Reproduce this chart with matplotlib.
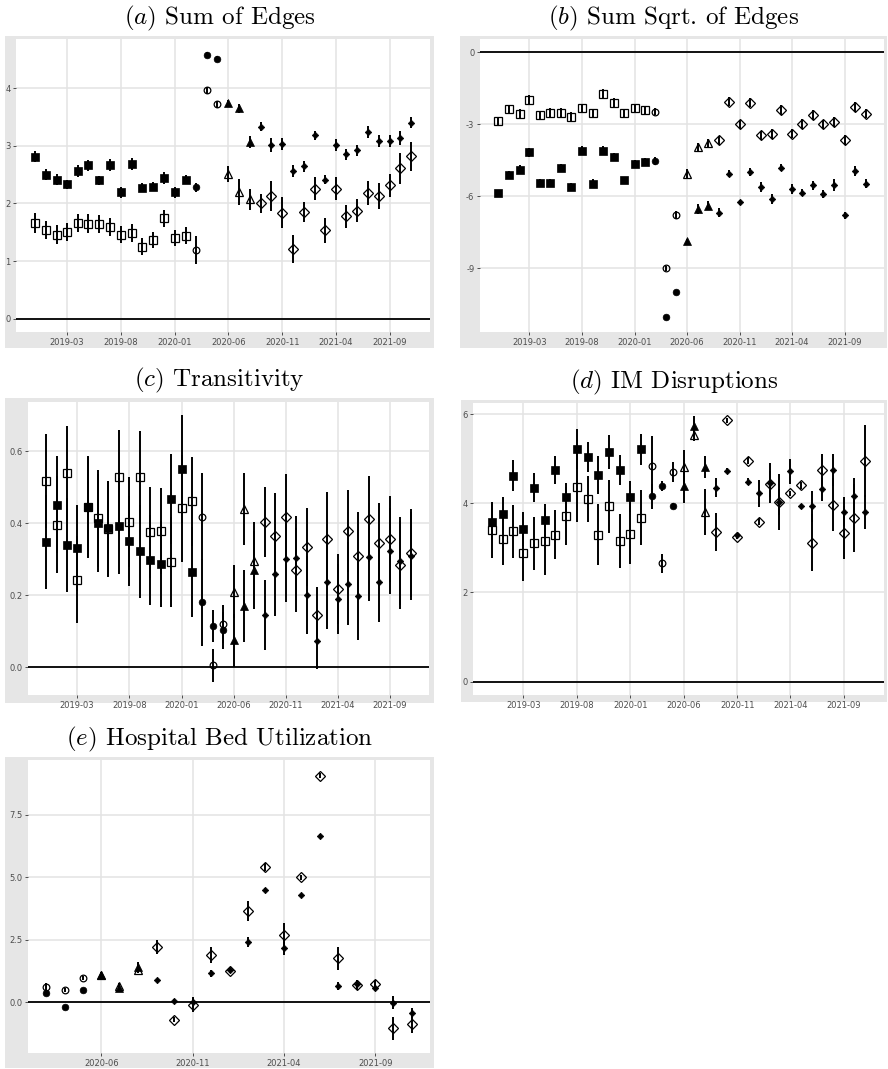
import numpy as np
import pandas as pd
import matplotlib
matplotlib.use("Agg")
import matplotlib.pyplot as plt
import matplotlib.dates as mdates
from matplotlib.patches import Rectangle
from matplotlib.ticker import FixedLocator, MultipleLocator, FormatStrFormatter

# ----------------------------------------------------------------- data ----

months = pd.date_range("2018-12-01", "2021-11-01", freq="MS")
months_covid = pd.date_range("2020-03-01", "2021-11-01", freq="MS")

# period -> first month (marker shape changes with the period)
phase_names = ["pre", "wave1", "summer", "later"]
phase_starts = ["2018-12-01", "2020-03-01", "2020-06-01", "2020-09-01"]

# (a) Sum of Edges
edges_filled = [2.81, 2.50, 2.41, 2.33, 2.56, 2.66, 2.40, 2.67, 2.19, 2.68, 2.27, 2.29,
                2.44, 2.19, 2.41, 2.28, 4.57, 4.51, 3.74, 3.65, 3.06, 3.33, 3.01, 3.03,
                2.56, 2.64, 3.18, 2.41, 3.01, 2.85, 2.92, 3.24, 3.08, 3.08, 3.14, 3.40]
edges_filled_err = [0.10, 0.10, 0.10, 0.08, 0.10, 0.10, 0.08, 0.10, 0.10, 0.10, 0.08, 0.08,
                    0.10, 0.10, 0.08, 0.08, 0.05, 0.04, 0.05, 0.08, 0.10, 0.08, 0.12, 0.10,
                    0.10, 0.10, 0.08, 0.08, 0.10, 0.10, 0.10, 0.10, 0.10, 0.10, 0.12, 0.10]
edges_open = [1.66, 1.54, 1.46, 1.50, 1.66, 1.65, 1.64, 1.59, 1.46, 1.49, 1.25, 1.37,
              1.74, 1.40, 1.44, 1.19, 3.96, 3.72, 2.51, 2.20, 2.07, 2.00, 2.13, 1.84,
              1.21, 1.85, 2.25, 1.53, 2.25, 1.78, 1.87, 2.18, 2.13, 2.31, 2.61, 2.82]
edges_open_err = [0.17, 0.16, 0.16, 0.16, 0.16, 0.16, 0.15, 0.15, 0.14, 0.16, 0.15, 0.14,
                  0.15, 0.14, 0.15, 0.24, 0.06, 0.06, 0.14, 0.22, 0.18, 0.17, 0.26, 0.27,
                  0.25, 0.18, 0.20, 0.22, 0.20, 0.20, 0.20, 0.20, 0.22, 0.20, 0.27, 0.25]

# (b) Sum Sqrt. of Edges
sqrt_filled = [-5.85, -5.09, -4.88, -4.16, -5.44, -5.43, -4.80, -5.61, -4.09, -5.47, -4.10, -4.34,
               -5.33, -4.63, -4.56, -4.53, -11.04, -9.99, -7.87, -6.53, -6.39, -6.67, -5.05, -6.25,
               -4.98, -5.61, -6.11, -4.80, -5.68, -5.85, -5.54, -5.90, -5.51, -6.78, -4.95, -5.47]
sqrt_filled_err = [0.12, 0.15, 0.18, 0.18, 0.15, 0.15, 0.15, 0.15, 0.18, 0.18, 0.18, 0.15,
                   0.15, 0.15, 0.15, 0.18, 0.05, 0.05, 0.10, 0.20, 0.18, 0.20, 0.15, 0.12,
                   0.18, 0.22, 0.22, 0.15, 0.20, 0.15, 0.20, 0.18, 0.25, 0.15, 0.22, 0.18]
sqrt_open = [-2.86, -2.37, -2.55, -1.99, -2.61, -2.51, -2.51, -2.69, -2.33, -2.54, -1.73, -2.09,
             -2.52, -2.33, -2.41, -2.48, -9.00, -6.77, -5.05, -3.95, -3.78, -3.67, -2.05, -3.00,
             -2.09, -3.46, -3.40, -2.40, -3.38, -2.98, -2.61, -3.00, -2.91, -3.64, -2.27, -2.55]
sqrt_open_err = [0.15, 0.18, 0.18, 0.20, 0.15, 0.18, 0.20, 0.20, 0.18, 0.20, 0.20, 0.18,
                 0.18, 0.15, 0.15, 0.15, 0.12, 0.15, 0.20, 0.18, 0.18, 0.20, 0.20, 0.20,
                 0.20, 0.20, 0.22, 0.20, 0.20, 0.20, 0.20, 0.20, 0.20, 0.20, 0.20, 0.20]

# (c) Transitivity (both series share the same interval width)
trans_filled = [0.348, 0.451, 0.339, 0.331, 0.446, 0.400, 0.385, 0.392, 0.350, 0.322, 0.297, 0.287,
                0.468, 0.550, 0.264, 0.180, 0.115, 0.102, 0.075, 0.170, 0.270, 0.145, 0.260, 0.300,
                0.304, 0.200, 0.072, 0.237, 0.190, 0.232, 0.197, 0.305, 0.236, 0.322, 0.296, 0.310]
trans_open = [0.517, 0.396, 0.539, 0.243, 0.444, 0.413, 0.383, 0.527, 0.402, 0.527, 0.374, 0.378,
              0.293, 0.441, 0.460, 0.418, 0.005, 0.120, 0.210, 0.440, 0.295, 0.403, 0.365, 0.417,
              0.270, 0.334, 0.145, 0.356, 0.216, 0.378, 0.310, 0.412, 0.346, 0.356, 0.285, 0.316]
trans_err = [0.130, 0.135, 0.130, 0.120, 0.140, 0.135, 0.133, 0.132, 0.125, 0.129, 0.125, 0.119,
             0.125, 0.149, 0.124, 0.120, 0.045, 0.052, 0.073, 0.100, 0.107, 0.098, 0.118, 0.118,
             0.116, 0.108, 0.077, 0.130, 0.097, 0.115, 0.122, 0.120, 0.110, 0.119, 0.122, 0.122]

# (d) IM Disruptions
im_filled = [3.58, 3.77, 4.62, 3.43, 4.35, 3.62, 4.75, 4.13, 5.22, 5.04, 4.63, 5.15,
             4.75, 4.15, 5.21, 4.16, 4.39, 3.94, 4.39, 5.73, 4.82, 4.35, 4.73, 3.28,
             4.48, 4.22, 4.46, 4.03, 4.72, 3.93, 3.93, 4.31, 4.75, 3.81, 4.16, 3.81]
im_filled_err = [0.40, 0.38, 0.34, 0.38, 0.33, 0.36, 0.32, 0.33, 0.45, 0.33, 0.42, 0.38,
                 0.33, 0.35, 0.35, 0.28, 0.12, 0.06, 0.38, 0.22, 0.25, 0.22, 0.05, 0.05,
                 0.08, 0.30, 0.45, 0.62, 0.28, 0.05, 0.35, 0.26, 0.36, 0.32, 0.40, 0.38]
im_open = [3.40, 3.21, 3.37, 2.88, 3.10, 3.15, 3.30, 3.71, 4.37, 4.10, 3.30, 3.93,
           3.15, 3.32, 3.68, 4.84, 2.65, 4.70, 4.81, 5.52, 3.81, 3.35, 5.86, 3.24,
           4.95, 3.59, 4.43, 4.03, 4.22, 4.40, 3.12, 4.75, 3.97, 3.34, 3.67, 4.95]
im_open_err = [0.62, 0.60, 0.60, 0.62, 0.60, 0.75, 0.55, 0.65, 0.80, 0.52, 0.68, 0.60,
               0.60, 0.68, 0.62, 0.67, 0.22, 0.22, 0.38, 0.12, 0.52, 0.43, 0.06, 0.05,
               0.08, 0.08, 0.30, 0.30, 0.06, 0.08, 0.63, 0.36, 0.60, 0.60, 0.77, 0.80]

# (e) Hospital Bed Utilization (starts 2020-03)
beds_filled = [0.35, -0.18, 0.48, 1.10, 0.55, 1.40, 0.88, 0.05, 0.00, 1.15, 1.30,
               2.40, 4.50, 2.15, 4.28, 6.65, 0.65, 0.72, 0.55, -0.02, -0.42]
beds_filled_err = [0.06, 0.06, 0.06, 0.10, 0.10, 0.20, 0.06, 0.06, 0.20, 0.15, 0.08,
                   0.20, 0.06, 0.25, 0.06, 0.06, 0.15, 0.15, 0.10, 0.25, 0.20]
beds_open = [0.60, 0.50, 0.95, 1.10, 0.65, 1.30, 2.20, -0.70, -0.10, 1.90, 1.25,
             3.65, 5.40, 2.70, 5.00, 9.05, 1.75, 0.70, 0.72, -1.05, -0.87]
beds_open_err = [0.18, 0.08, 0.08, 0.10, 0.10, 0.15, 0.28, 0.10, 0.28, 0.32, 0.10,
                 0.40, 0.15, 0.45, 0.10, 0.10, 0.45, 0.20, 0.15, 0.45, 0.35]

# ---------------------------------------------------------------- style ----

plt.rcParams["mathtext.fontset"] = "cm"
plt.rcParams["axes.unicode_minus"] = False

W, H = 888, 1069
BG = "#e6e6e6"
GRID = "#e3e3e3"

MARKERS = {"pre": ("s", 6.2, 6.2), "wave1": ("o", 4.8, 4.8),
           "summer": ("^", 5.8, 5.8), "later": ("D", 3.3, 5.6)}


def phase_of(dates):
    starts = pd.to_datetime(phase_starts)
    idx = np.searchsorted(starts.values, dates.values, side="right") - 1
    return np.array(phase_names)[idx]


def fig_rect(x0, y0, x1, y1):
    """pixel box (top-left origin) -> figure fraction rect"""
    return [x0 / W, 1 - y1 / H, (x1 - x0) / W, (y1 - y0) / H]


def draw_panel(fig, grey_box, panel_box, title, dates, filled, filled_err,
               hollow, hollow_err, ystep, yfmt):
    r = fig_rect(*grey_box)
    fig.patches.append(Rectangle(r[:2], r[2], r[3], transform=fig.transFigure,
                                 facecolor=BG, edgecolor="none", zorder=-10))
    ax = fig.add_axes(fig_rect(*panel_box))
    ax.set_facecolor("white")
    for s in ax.spines.values():
        s.set_visible(False)

    filled = np.asarray(filled)
    hollow = np.asarray(hollow)
    filled_err = np.asarray(filled_err)
    hollow_err = np.asarray(hollow_err)
    phases = phase_of(dates)

    ax.axhline(0, color="black", lw=1.3, zorder=1)
    for ph in phase_names:
        m = phases == ph
        if not m.any():
            continue
        mk, ms_f, ms_o = MARKERS[ph]
        ax.errorbar(dates[m], hollow[m], yerr=hollow_err[m], fmt=mk, ms=ms_o,
                    mfc="none", mec="black", mew=0.9, ecolor="black",
                    elinewidth=1.4, capsize=0, zorder=3)
        ax.errorbar(dates[m], filled[m], yerr=filled_err[m], fmt=mk, ms=ms_f,
                    mfc="black", mec="black", mew=0.5, ecolor="black",
                    elinewidth=1.4, capsize=0, zorder=4)

    # ggplot-like 5% expansion, zero line included
    x0 = mdates.date2num(dates[0])
    x1 = mdates.date2num(dates[-1])
    ax.set_xlim(x0 - 0.05 * (x1 - x0), x1 + 0.05 * (x1 - x0))
    lo = min(0, (filled - filled_err).min(), (hollow - hollow_err).min())
    hi = max(0, (filled + filled_err).max(), (hollow + hollow_err).max())
    ax.set_ylim(lo - 0.05 * (hi - lo), hi + 0.05 * (hi - lo))

    ticks = pd.date_range("2019-03-01", periods=7, freq="5MS")
    ax.xaxis.set_major_locator(FixedLocator(mdates.date2num(ticks)))
    ax.xaxis.set_major_formatter(mdates.DateFormatter("%Y-%m"))
    ax.yaxis.set_major_locator(MultipleLocator(ystep))
    ax.yaxis.set_major_formatter(FormatStrFormatter(yfmt))
    ax.grid(True, color=GRID, lw=1.1, zorder=0)
    ax.set_axisbelow(True)
    ax.tick_params(axis="both", labelsize=6, colors="#4d4d4d", length=2.5,
                   width=0.6, pad=1.5)
    ax.tick_params(axis="both", color="#333333")

    gx0, gy0, gx1, gy1 = grey_box
    fig.text(((gx0 + gx1) / 2) / W, 1 - (gy0 - 18) / H, title,
             fontfamily="cmr10", fontsize=18, ha="center", va="center")
    return ax


fig = plt.figure(figsize=(W / 100, H / 100), dpi=100)

draw_panel(fig, (5, 36, 434, 348), (16, 39, 430, 332), r"$(a)$ Sum of Edges",
           months, edges_filled, edges_filled_err, edges_open, edges_open_err, 1, "%d")
draw_panel(fig, (460, 36, 887, 348), (480, 39, 884, 332), r"$(b)$ Sum Sqrt. of Edges",
           months, sqrt_filled, sqrt_filled_err, sqrt_open, sqrt_open_err, 3, "%d")
draw_panel(fig, (5, 398, 434, 703), (28, 402, 429, 695), r"$(c)$ Transitivity",
           months, trans_filled, trans_err, trans_open, trans_err, 0.2, "%.1f")
draw_panel(fig, (461, 400, 887, 702), (473, 403, 884, 695), r"$(d)$ IM Disruptions",
           months, im_filled, im_filled_err, im_open, im_open_err, 2, "%d")
draw_panel(fig, (5, 757, 434, 1068), (28, 760, 430, 1053),
           r"$(e)$ Hospital Bed Utilization",
           months_covid, beds_filled, beds_filled_err, beds_open, beds_open_err, 2.5, "%.1f")

fig.savefig("out.png", dpi=100)
